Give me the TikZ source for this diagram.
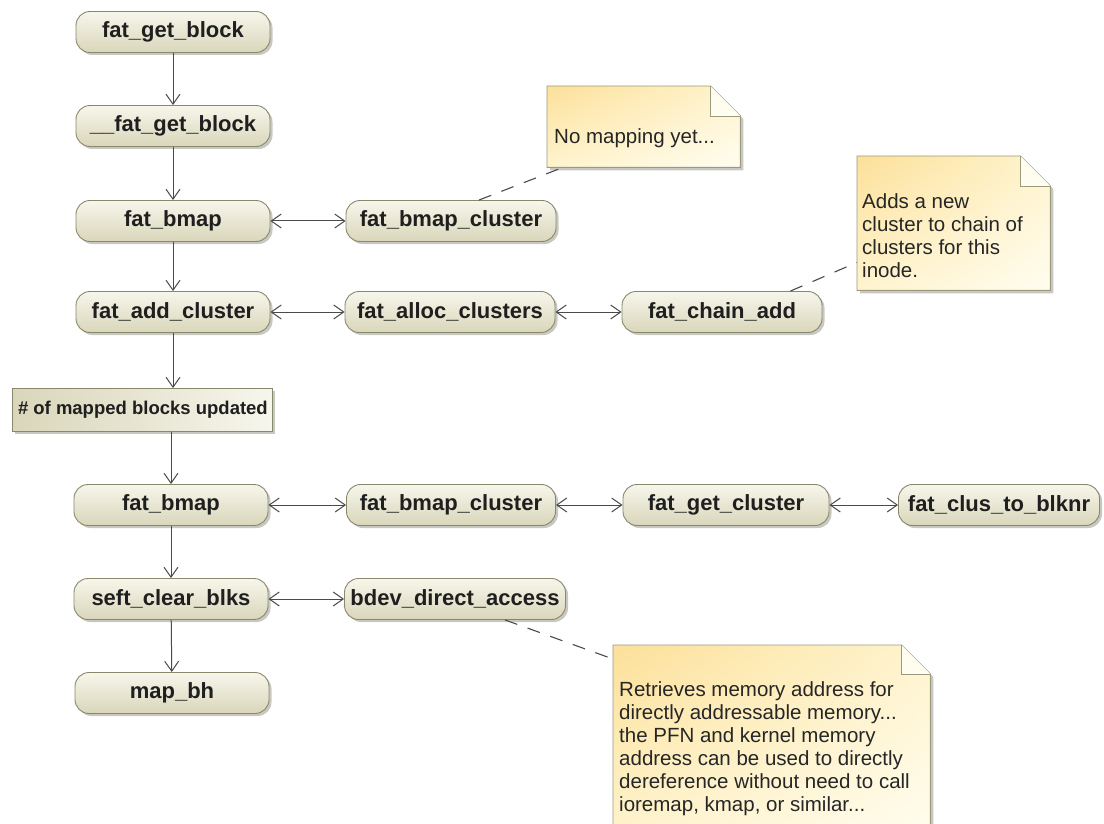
\documentclass[tikz,border=0pt]{standalone}
\usepackage{fontspec}
\setmainfont{Liberation Sans}
\usetikzlibrary{arrows.meta,shadows,shadings}

\definecolor{edge}{HTML}{4A4A4A}
\definecolor{boxline}{HTML}{8A886C}
\definecolor{boxtop}{HTML}{F7F6EC}
\definecolor{boxbot}{HTML}{D9D6BA}
\definecolor{noteA}{HTML}{FCE09A}
\definecolor{noteB}{HTML}{FFF4CE}
\definecolor{noteC}{HTML}{FFFDF0}
\definecolor{noteline}{HTML}{9C9A7C}
\definecolor{shadowgray}{HTML}{B0B0A8}

\tikzset{
  boxbase/.style={draw=boxline, line width=0.9pt, minimum height=41pt, inner sep=0pt,
    font=\fontsize{22}{25}\selectfont\bfseries, text=black!88,
    drop shadow={shadow xshift=2.5pt, shadow yshift=-2.5pt, fill=shadowgray, opacity=0.7}},
  action/.style={boxbase, rounded corners=14pt, top color=boxtop, bottom color=boxbot},
  statebox/.style={boxbase, left color=boxbot, right color=boxtop,
    font=\fontsize{18.5}{22}\selectfont\bfseries},
  flow/.style={draw=edge, line width=1pt, -{Straight Barb[length=10pt,width=14pt]}},
  both/.style={draw=edge, line width=1pt,
    {Straight Barb[length=10pt,width=14pt]}-{Straight Barb[length=10pt,width=14pt]}},
  link/.style={draw=edge, line width=1.1pt, dash pattern=on 13pt off 11pt},
  notebody/.style={draw=none, inner sep=0pt, anchor=north west},
  notetext/.style={font=\fontsize{20.5}{23}\selectfont, align=left, text=black!85,
    inner sep=0pt, anchor=north west},
}

% outline of a note with a folded top-right corner
\newcommand\notepath[2]{(#1.north west) -- ([xshift=-#2]#1.north east)
  -- ([yshift=-#2]#1.north east) -- (#1.south east) -- (#1.south west) -- cycle}
\newcommand\drawnote[2]{%
  \fill[shadowgray, opacity=0.7, transform canvas={xshift=3pt,yshift=-3pt}] \notepath{#1}{#2};
  \shade[upper left=noteA, upper right=noteB, lower left=noteB, lower right=noteC]
    \notepath{#1}{#2};
  \draw[noteline, line width=0.9pt] \notepath{#1}{#2};
  \draw[noteline, line width=0.9pt, fill=noteC] ([xshift=-#2]#1.north east)
    -- ([xshift=-#2,yshift=-#2]#1.north east) -- ([yshift=-#2]#1.north east);}

\begin{document}
\begin{tikzpicture}[x=1pt, y=-1pt]
\useasboundingbox (0,0) rectangle (1104,824);
\clip (0,0) rectangle (1104,824);

% main call chain
\node[action, minimum width=194pt] (getblock)   at (173,32)  {fat\_get\_block};
\node[action, minimum width=194pt] (ugetblock)  at (173,126) {\_\_fat\_get\_block};
\node[action, minimum width=194pt] (bmapA)      at (173,221) {fat\_bmap};
\node[action, minimum width=194pt] (addcluster) at (173,312) {fat\_add\_cluster};
\node[statebox, minimum height=43pt, inner xsep=6pt]
      (mapped) at (142,410) {\makebox[248pt][l]{\# of mapped blocks updated}};
\node[action, minimum width=194pt] (bmapB)      at (171,505) {fat\_bmap};
\node[action, minimum width=194pt] (clear)      at (171,599) {seft\_clear\_blks};
\node[action, minimum width=194pt] (mapbh)      at (172,693) {map\_bh};

% callees
\node[action, minimum width=210pt] (bclusterA) at (451,221) {fat\_bmap\_cluster};
\node[action, minimum width=210pt] (alloc)     at (450,312) {fat\_alloc\_clusters};
\node[action, minimum width=200pt] (chainadd)  at (722,312) {fat\_chain\_add};
\node[action, minimum width=209pt] (bclusterB) at (451,505) {fat\_bmap\_cluster};
\node[action, minimum width=206pt] (getcluster) at (726,505) {fat\_get\_cluster};
\node[action, minimum width=201pt] (clustoblk) at (999,505) {fat\_clus\_to\_blknr};
\node[action, minimum width=221pt] (bdev)      at (455,599) {bdev\_direct\_access};

% vertical flow
\draw[flow] (getblock) -- (ugetblock);
\draw[flow] (ugetblock) -- (bmapA);
\draw[flow] (bmapA) -- (addcluster);
\draw[flow] (addcluster) -- (addcluster |- mapped.north);
\draw[flow] (mapped.south -| bmapB) -- (bmapB);
\draw[flow] (bmapB) -- (clear);
\draw[flow] (clear) -- (mapbh);

% calls in both directions
\draw[both] (bmapA) -- (bclusterA);
\draw[both] (addcluster) -- (alloc);
\draw[both] (alloc) -- (chainadd);
\draw[both] (bmapB) -- (bclusterB);
\draw[both] (bclusterB) -- (getcluster);
\draw[both] (getcluster) -- (clustoblk);
\draw[both] (clear) -- (bdev);

% notes
\node[notebody, minimum width=193pt, minimum height=81pt] (noteA) at (547,86) {};
\drawnote{noteA}{30pt}
\node[notetext] at ([xshift=7pt,yshift=-42pt]noteA.north west) {No mapping yet...};

\node[notebody, minimum width=193pt, minimum height=134pt] (noteB) at (857,156) {};
\drawnote{noteB}{30pt}
\node[notetext] at ([xshift=5pt,yshift=-37pt]noteB.north west)
  {Adds a new\\cluster to chain of\\clusters for this\\inode.};

\node[notebody, minimum width=317pt, minimum height=195pt] (noteC) at (613,645) {};
\drawnote{noteC}{29pt}
\node[notetext] at ([xshift=6pt,yshift=-36pt]noteC.north west)
  {Retrieves memory address for\\directly addressable memory...\\the PFN and kernel memory\\address can be used to directly\\dereference without need to call\\ioremap, kmap, or similar...};

% note attachments
\draw[link] ([xshift=28pt]bclusterA.north) -- ([xshift=16pt]noteA.south west);
\draw[link] ([xshift=-32pt]chainadd.north east) -- ([yshift=28pt]noteB.south west);
\draw[link] ([xshift=50pt]bdev.south) -- ([yshift=-14pt]noteC.north west);
\end{tikzpicture}
\end{document}
